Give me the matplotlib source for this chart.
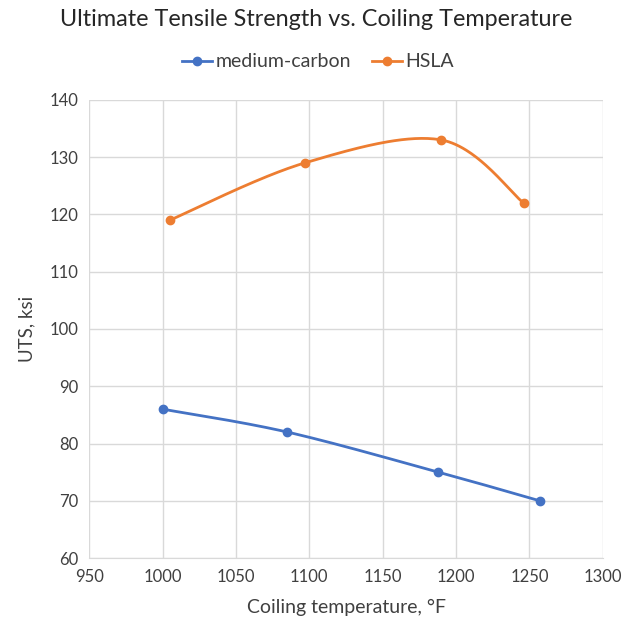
import numpy as np
import matplotlib
matplotlib.use('Agg')
import matplotlib.pyplot as plt

# data
temp_mc = [1000, 1085, 1188, 1257]
uts_mc = [86, 82, 75, 70]
temp_hsla = [1005, 1097, 1190, 1246]
uts_hsla = [119, 129, 133, 122]

x_ticks = [950, 1000, 1050, 1100, 1150, 1200, 1250, 1300]
y_ticks = [60, 70, 80, 90, 100, 110, 120, 130, 140]

BLUE = '#4472C4'
ORANGE = '#ED7D31'
GRID = '#D9D9D9'
TEXT = '#404040'

plt.rcParams['font.family'] = ['Lato', 'DejaVu Sans']


def excel_smooth(x, y, xr, yr, n=60):
    """Bezier smoothing like Excel's smoothed line (Catmull-Rom, scaled space)."""
    x = np.asarray(x, float) / xr
    y = np.asarray(y, float) / yr
    pts = np.column_stack([x, y])
    out = []
    for i in range(len(pts) - 1):
        p0 = pts[i - 1] if i > 0 else pts[i]
        p1 = pts[i]
        p2 = pts[i + 1]
        p3 = pts[i + 2] if i + 2 < len(pts) else pts[i + 1]
        c1 = p1 + (p2 - p0) / 6
        c2 = p2 - (p3 - p1) / 6
        t = np.linspace(0, 1, n)[:, None]
        seg = ((1 - t) ** 3) * p1 + 3 * ((1 - t) ** 2) * t * c1 \
            + 3 * (1 - t) * t ** 2 * c2 + t ** 3 * p2
        out.append(seg if i == 0 else seg[1:])
    out = np.vstack(out)
    return out[:, 0] * xr, out[:, 1] * yr


fig = plt.figure(figsize=(6.24, 6.32), dpi=100)
ax = fig.add_axes([0.143, 0.117, 0.823, 0.725])

xr, yr = 350.0, 80.0
for xs, ys, col, lab in [(temp_mc, uts_mc, BLUE, 'medium-carbon'),
                         (temp_hsla, uts_hsla, ORANGE, 'HSLA')]:
    sx, sy = excel_smooth(xs, ys, xr, yr)
    ax.plot(sx, sy, '-', color=col, linewidth=2, zorder=3)
    ax.plot(xs, ys, 'o', color=col, markersize=6, zorder=4)
    ax.plot([], [], '-o', color=col, linewidth=2, markersize=6, label=lab)

ax.set_xlim(950, 1300)
ax.set_ylim(60, 140)
ax.set_xticks(x_ticks)
ax.set_yticks(y_ticks)
ax.grid(True, color=GRID, linewidth=1)
ax.set_axisbelow(True)
for s in ['top', 'right', 'left']:
    ax.spines[s].set_visible(False)
ax.spines['bottom'].set_color(GRID)
ax.tick_params(length=0, labelsize=12, colors=TEXT, pad=8)

ax.set_xlabel('Coiling temperature, °F', fontsize=14, color=TEXT, labelpad=10)
ax.set_ylabel('UTS, ksi', fontsize=13.5, color=TEXT, labelpad=10)

fig.suptitle('Ultimate Tensile Strength vs. Coiling Temperature',
             fontsize=16.8, color='#262626', y=0.985, x=0.506)
fig.legend(loc='center', bbox_to_anchor=(0.51, 0.902), ncol=2, frameon=False,
           fontsize=14, handlelength=1.5, columnspacing=1.1, handletextpad=0.2,
           labelcolor=TEXT)

fig.savefig('out.png', dpi=100)
